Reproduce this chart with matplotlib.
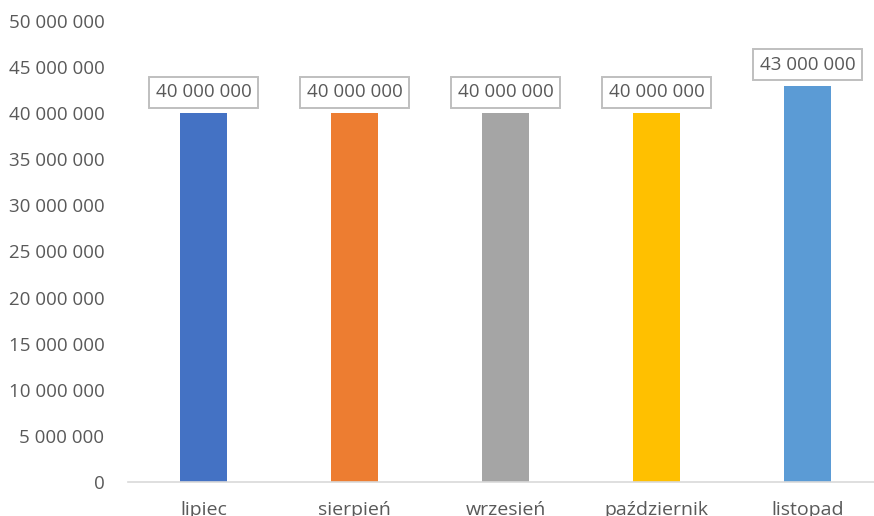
import matplotlib.pyplot as plt
from matplotlib.ticker import FuncFormatter

months = ["lipiec", "sierpień", "wrzesień", "październik", "listopad"]
values = [40000000, 40000000, 40000000, 40000000, 43000000]
colors = ["#4472C4", "#ED7D31", "#A5A5A5", "#FFC000", "#5B9BD5"]
y_ticks = [0, 5000000, 10000000, 15000000, 20000000, 25000000,
           30000000, 35000000, 40000000, 45000000, 50000000]

TEXT = "#595959"
plt.rcParams['font.family'] = ['Open Sans', 'DejaVu Sans']


def spaced(v, pos=None):
    # thousands grouped with spaces
    return f"{int(v):,}".replace(",", " ")


fig = plt.figure(figsize=(8.74, 5.16), dpi=100)
ax = fig.add_axes([0.1465, 0.0659, 0.8535, 0.8934])

x = list(range(len(months)))
ax.bar(x, values, width=0.31, color=colors, zorder=2)

for xi, v in zip(x, values):
    ax.annotate(spaced(v), (xi, v), xytext=(0, 15), textcoords="offset points",
                ha="center", va="center", fontsize=13.5, color=TEXT,
                bbox=dict(boxstyle="square,pad=0.35", fc="white",
                          ec="#BFBFBF", lw=1.4))

ax.set_xlim(-0.5, 4.44)
ax.set_ylim(0, 50000000)
ax.set_yticks(y_ticks)
ax.yaxis.set_major_formatter(FuncFormatter(spaced))
ax.set_xticks(x)
ax.set_xticklabels(months)

for s in ["top", "right", "left"]:
    ax.spines[s].set_visible(False)
ax.spines["bottom"].set_color("#D9D9D9")
ax.spines["bottom"].set_linewidth(1.2)

ax.tick_params(axis="y", length=0, pad=17, labelsize=13.5, labelcolor=TEXT)
ax.tick_params(axis="x", length=0, pad=14, labelsize=14, labelcolor=TEXT)

fig.savefig("out.png", dpi=100)
